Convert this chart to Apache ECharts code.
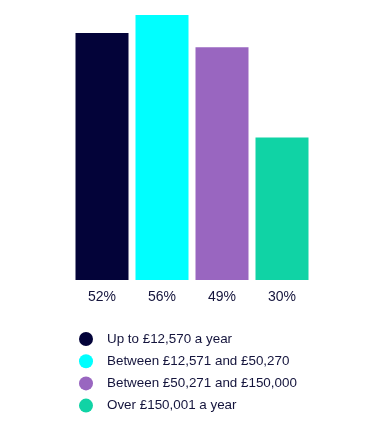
<!DOCTYPE html>
<html><head><meta charset="utf-8">
<script src="https://cdn.jsdelivr.net/npm/echarts@6/dist/echarts.min.js"></script>
<style>html,body{margin:0;padding:0;background:#fff}#c{width:383px;height:427px}</style>
</head><body><div id="c"></div>
<script>
var categories = ['Up to £12,570 a year', 'Between £12,571 and £50,270', 'Between £50,271 and £150,000', 'Over £150,001 a year'];
var values = [52, 56, 49, 30];
var tickLabels = ['52%', '56%', '49%', '30%'];
var colors = ['#030339', '#00ffff', '#9966c0', '#10d3a5'];

var series = categories.map(function (name, i) {
  return {
    name: name, type: 'bar', stack: 'all', barWidth: 53,
    itemStyle: { color: colors[i] },
    data: values.map(function (v, j) { return j === i ? v : '-'; })
  };
});

var chart = echarts.init(document.getElementById('c'));
chart.setOption({
  animation: false,
  grid: { left: 72, right: 71, top: 15, bottom: 147 },
  xAxis: {
    type: 'category', data: tickLabels,
    axisLine: { show: false }, axisTick: { show: false },
    axisLabel: { margin: 10, fontSize: 14, color: '#14143c', fontFamily: 'Liberation Sans' }
  },
  yAxis: { type: 'value', min: 0, max: 55.8, show: false },
  legend: {
    orient: 'vertical', left: 74, top: 327, icon: 'circle',
    itemWidth: 32, itemHeight: 14, itemGap: 8.2,
    textStyle: { fontSize: 13.4, color: '#14143c', fontFamily: 'Liberation Sans', padding: [0,0,0,0] },
    data: categories
  },
  series: series
});
</script></body></html>
